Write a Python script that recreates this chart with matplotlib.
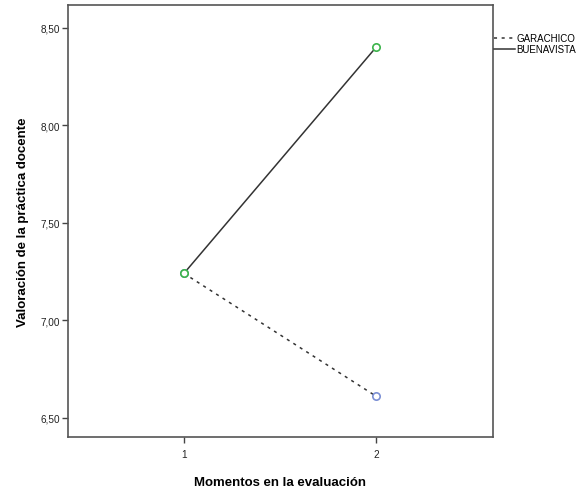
import matplotlib
matplotlib.use("Agg")
import matplotlib.pyplot as plt
from matplotlib.ticker import FuncFormatter

plt.rcParams['font.family'] = ['Liberation Sans', 'DejaVu Sans']

moments = [1, 2]
garachico = [7.24, 6.61]
buenavista = [7.24, 8.40]
y_ticks = [6.50, 7.00, 7.50, 8.00, 8.50]

fig = plt.figure(figsize=(5.87, 4.89), dpi=100)
ax = fig.add_axes([68 / 587, 1 - 438 / 489, (493 - 68) / 587, (438 - 6) / 489])

ax.plot(moments, garachico, color="#333333", linestyle=(0, (2, 3)), linewidth=1.1,
        label="GARACHICO", zorder=2)
ax.plot(moments, buenavista, color="#333333", linestyle="-", linewidth=1.1,
        label="BUENAVISTA", zorder=2)
ax.scatter(moments, garachico, s=28, facecolors="white", edgecolors="#7b8fd4",
           linewidths=1.2, zorder=3)
ax.scatter(moments, buenavista, s=28, facecolors="white", edgecolors="#3cb44b",
           linewidths=1.2, zorder=4)

ax.set_xlim(0.396, 2.61)
ax.set_ylim(6.40, 8.618)
ax.set_xticks(moments)
ax.set_yticks(y_ticks)
ax.yaxis.set_major_formatter(FuncFormatter(lambda v, p: f"{v:.2f}".replace(".", ",")))
ax.tick_params(axis="both", labelsize=7.2, length=4, width=1, color="#444444",
               labelcolor="#222222")
ax.tick_params(axis="x", pad=5)
ax.tick_params(axis="y", pad=2)

for sp in ax.spines.values():
    sp.set_color("#555555")
    sp.set_linewidth(1.2)

ax.set_xlabel("Momentos en la evaluación", fontsize=9.5, fontweight="bold", labelpad=12)
ax.set_ylabel("Valoración de la práctica docente", fontsize=9.5, fontweight="bold", labelpad=8)

fig.legend(loc="upper left", bbox_to_anchor=(494 / 587, 1 - 34 / 489), frameon=False,
           fontsize=7, handlelength=2.2, handletextpad=0.1, labelspacing=0.1,
           borderaxespad=0, borderpad=0)

fig.savefig("out.png", dpi=100)
